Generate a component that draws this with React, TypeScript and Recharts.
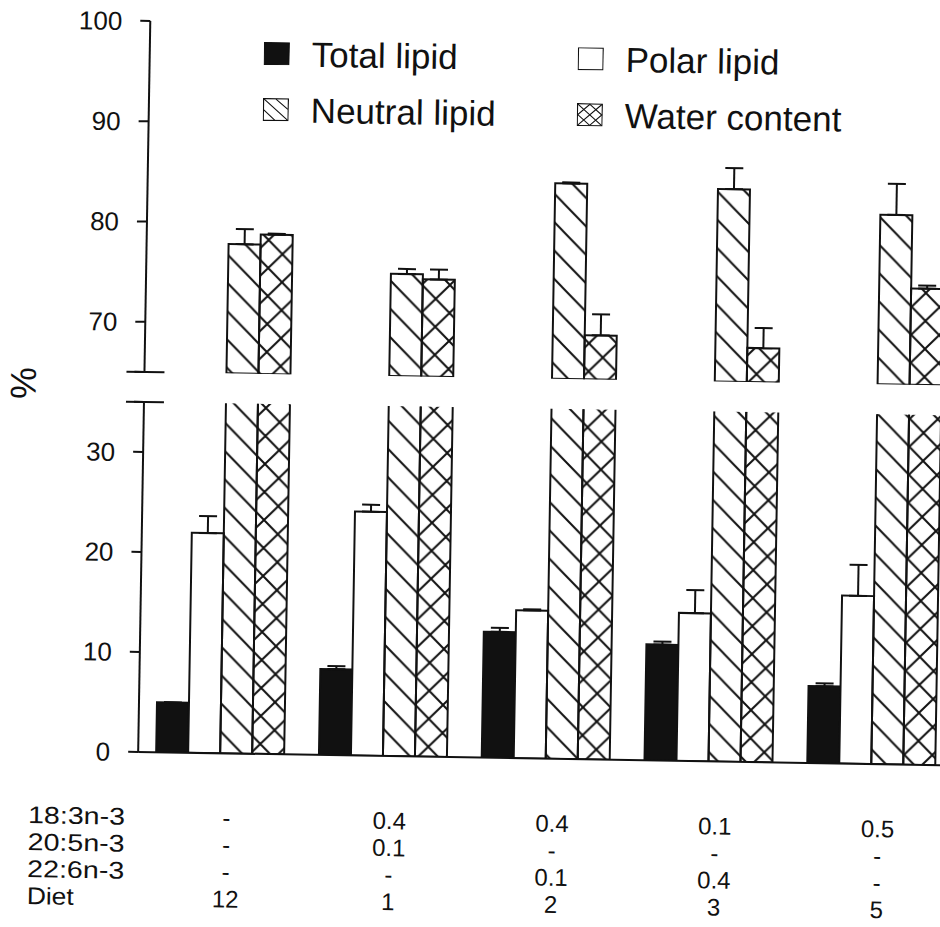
import React from 'react';
import { BarChart, Bar, XAxis, YAxis, ErrorBar, Legend } from 'recharts';

// diet composition table under the x axis
const diets = ['12', '1', '2', '3', '5'];
const fa183 = ['-', '0.4', '0.4', '0.1', '0.5'];
const fa205 = ['-', '0.1', '-', '-', '-'];
const fa226 = ['-', '-', '0.1', '0.4', '-'];
const rowNames = ['18:3n-3', '20:5n-3', '22:6n-3', 'Diet'];

// % values, error = upper SE only
const totalLipid = [5.0, 8.6, 12.6, 11.6, 7.7];
const totalErr = [0, 0.3, 0.4, 0.3, 0.3];
const polarLipid = [22.0, 24.4, 14.8, 14.8, 16.8];
const polarErr = [1.7, 0.7, 0.1, 2.3, 3.1];
const neutralLipid = [77.9, 75.2, 84.5, 84.2, 81.9];
const neutralErr = [1.5, 0.5, 0.1, 2.1, 3.1];
const waterContent = [78.9, 74.7, 69.4, 68.4, 74.6];
const waterErr = [0.1, 1.0, 2.1, 2.0, 0.3];

const upperTicks = [65, 70, 80, 90, 100];
const lowerTicks = [0, 10, 20, 30, 35];
const legendOrder = ['total', 'polar', 'neutral', 'water'];

const data = diets.map((d, i) => ({
  diet: d,
  total: totalLipid[i], totalE: [0, totalErr[i]],
  polar: polarLipid[i], polarE: [0, polarErr[i]],
  neutral: neutralLipid[i], neutralE: [0, neutralErr[i]],
  water: waterContent[i], waterE: [0, waterErr[i]],
}));
// total & polar lipid never reach the upper (65-100) panel
const upperData = data.map(d => ({ ...d, total: null, polar: null }));

const ink = '#111';
const ff = '"Liberation Sans", Arial, Helvetica, sans-serif';
const W = 958;
const AXIS_W = 144;

function Patterns({ id }: { id: string }) {
  return (
    <defs>
      <pattern id={`hatch${id}`} patternUnits="userSpaceOnUse" width={28} height={28}>
        <path d="M0,0 L28,28 M-7,21 L7,35 M21,-7 L35,7" stroke={ink} strokeWidth={2} />
      </pattern>
      <pattern id={`cross${id}`} patternUnits="userSpaceOnUse" width={28} height={28}>
        <path d="M0,0 L28,28 M-7,21 L7,35 M21,-7 L35,7 M0,28 L28,0 M-7,7 L7,-7 M21,35 L35,21" stroke={ink} strokeWidth={2} />
      </pattern>
    </defs>
  );
}

function YTick({ x, y, payload, breakAt }: any) {
  const axisX = x + 10 + 18;
  if (payload.value === breakAt) {
    return <line x1={axisX - 18} x2={axisX + 20} y1={y} y2={y} stroke={ink} strokeWidth={2} />;
  }
  return (
    <text x={x} y={y} dy="0.36em" textAnchor="end" fontSize={26} fontFamily={ff} fill={ink}>
      {payload.value}
    </text>
  );
}

function DietTick({ x, y, payload }: any) {
  const i = diets.indexOf(payload.value);
  const rows = [fa183[i], fa205[i], fa226[i], diets[i]];
  return (
    <g>
      {rows.map((t, r) => (
        <text key={r} x={x + 8} y={y + 73 + r * 27} textAnchor="middle" fontSize={24} fontFamily={ff} fill={ink}>
          {t}
        </text>
      ))}
    </g>
  );
}

function RowLabels({ viewBox }: any) {
  if (!viewBox) return null;
  return (
    <g>
      {rowNames.map((t, r) => (
        <text key={t} x={viewBox.x - 109} y={viewBox.y + 73 + r * 27} fontSize={24} fontFamily={ff} fill={ink}
          textLength={t === 'Diet' ? 47 : 97} lengthAdjust="spacingAndGlyphs">
          {t}
        </text>
      ))}
    </g>
  );
}

function PctLabel({ viewBox }: any) {
  if (!viewBox) return null;
  const x = viewBox.x + 23;
  const y = viewBox.y + viewBox.height + 13;
  return (
    <text x={x} y={y} textAnchor="middle" dominantBaseline="central" fontSize={36} fontFamily={ff} fill={ink}
      transform={`rotate(-90, ${x}, ${y})`}>%</text>
  );
}

function Swatch({ kind }: { kind: string }) {
  return (
    <svg width={26} height={23} style={{ flexShrink: 0 }}>
      <rect x={0.6} y={0.6} width={24.8} height={21.8} fill={kind === 'total' ? ink : '#fff'} stroke={ink} strokeWidth={1.2} />
      {kind === 'neutral' && <path d="M1,1 L25,22 M1,12 L12,22 M13,1 L25,11" stroke={ink} strokeWidth={1.1} fill="none" />}
      {kind === 'water' && <path d="M13,1 L25,11.5 L13,22 L1,11.5 Z M1,1 L25,22 M25,1 L1,22" stroke={ink} strokeWidth={1.1} fill="none" />}
    </svg>
  );
}

function LegendBox({ payload }: any) {
  const items = [...(payload || [])].sort((a: any, b: any) => legendOrder.indexOf(a.dataKey) - legendOrder.indexOf(b.dataKey));
  return (
    <div style={{ display: 'grid', gridTemplateColumns: '314px 330px', gridAutoRows: '56px', marginLeft: 258, marginTop: 23 }}>
      {items.map((p: any) => (
        <div key={p.value} style={{ display: 'flex', alignItems: 'center', gap: 22 }}>
          <Swatch kind={p.dataKey} />
          <span style={{ fontSize: 35, fontFamily: ff, color: ink, lineHeight: 1, whiteSpace: 'nowrap' }}>{p.value}</span>
        </div>
      ))}
    </div>
  );
}

const barProps = { stroke: ink, strokeWidth: 2, isAnimationActive: false };
const errProps = { width: 9, stroke: ink, strokeWidth: 2, direction: 'y' as const };

export default function App() {
  return (
    <div style={{ position: 'absolute', left: 0, top: 0, width: 940, height: 927, overflow: 'hidden', background: '#fff' }}>
      <div style={{ position: 'absolute', left: 0, top: 0, width: W, height: 927, transform: 'rotate(0.95deg)', transformOrigin: '145px 400px' }}>
        {/* upper panel 65-100 */}
        <div style={{ position: 'absolute', left: 0, top: 0 }}>
          <BarChart width={W} height={400} data={upperData} margin={{ top: 21, right: 0, bottom: 28, left: 0 }}
            barCategoryGap={18} barGap={0}>
            <Patterns id="U" />
            <XAxis dataKey="diet" hide height={0} />
            <YAxis width={AXIS_W} domain={[65, 100]} ticks={upperTicks} allowDataOverflow interval={0}
              axisLine={{ stroke: ink, strokeWidth: 2 }} tickLine={{ stroke: ink, strokeWidth: 2 }}
              tickSize={10} tickMargin={18} tick={<YTick breakAt={65} />}
              label={{ value: '%', content: PctLabel }} />
            <Legend layout="horizontal" verticalAlign="middle" align="center"
              wrapperStyle={{ top: 0, left: 0, width: W }} content={<LegendBox />} />
            <Bar dataKey="total" name="Total lipid" fill={ink} {...barProps} />
            <Bar dataKey="polar" name="Polar lipid" fill="#fff" {...barProps} />
            <Bar dataKey="neutral" name="Neutral lipid" fill="url(#hatchU)" {...barProps}>
              <ErrorBar dataKey="neutralE" {...errProps} />
            </Bar>
            <Bar dataKey="water" name="Water content" fill="url(#crossU)" {...barProps}>
              <ErrorBar dataKey="waterE" {...errProps} />
            </Bar>
          </BarChart>
        </div>
        {/* lower panel 0-35 */}
        <div style={{ position: 'absolute', left: 0, top: 0 }}>
          <BarChart width={W} height={927} data={data} margin={{ top: 402, right: 0, bottom: 0, left: 0 }}
            barCategoryGap={18} barGap={0}>
            <Patterns id="L" />
            <XAxis dataKey="diet" height={175} interval={0} tickSize={0} tickMargin={0}
              axisLine={{ stroke: ink, strokeWidth: 2 }} tickLine={false} tick={<DietTick />}
              label={{ value: 'rows', content: RowLabels }} />
            <YAxis width={AXIS_W} domain={[0, 35]} ticks={lowerTicks} allowDataOverflow interval={0}
              axisLine={{ stroke: ink, strokeWidth: 2 }} tickLine={{ stroke: ink, strokeWidth: 2 }}
              tickSize={10} tickMargin={18} tick={<YTick breakAt={35} />} />
            <Bar dataKey="total" name="Total lipid" fill={ink} {...barProps}>
              <ErrorBar dataKey="totalE" {...errProps} />
            </Bar>
            <Bar dataKey="polar" name="Polar lipid" fill="#fff" {...barProps}>
              <ErrorBar dataKey="polarE" {...errProps} />
            </Bar>
            <Bar dataKey="neutral" name="Neutral lipid" fill="url(#hatchL)" {...barProps} />
            <Bar dataKey="water" name="Water content" fill="url(#crossL)" {...barProps} />
          </BarChart>
        </div>
      </div>
    </div>
  );
}
